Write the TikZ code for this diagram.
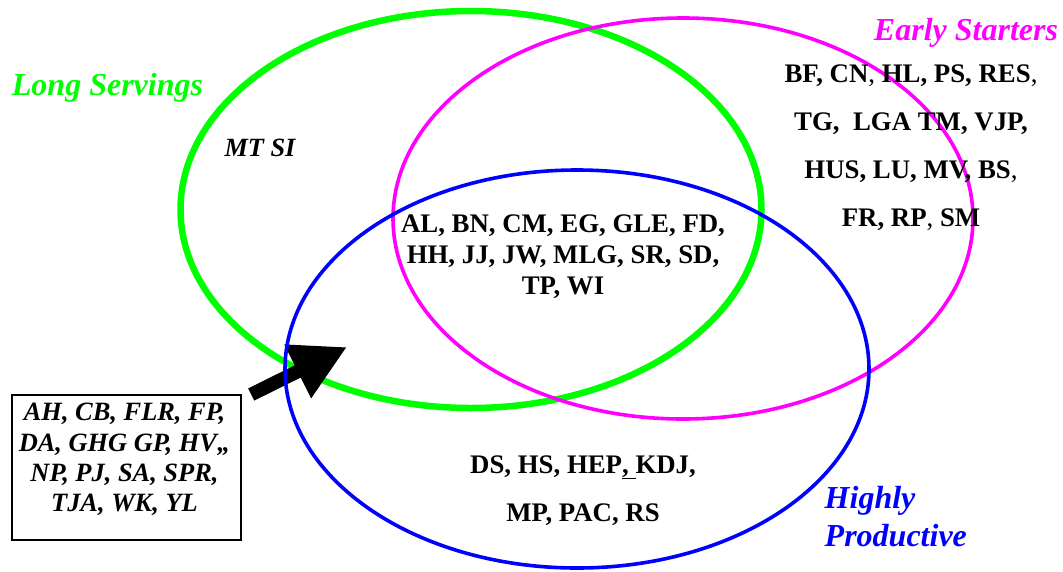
\documentclass[tikz,border=0pt]{standalone}
\usepackage{fontspec}
\setmainfont{Liberation Serif}
\usetikzlibrary{arrows.meta}
\definecolor{vgreen}{RGB}{0,255,0}
\definecolor{vmag}{RGB}{255,0,255}
\definecolor{vblue}{RGB}{0,0,255}
\begin{document}
\begin{tikzpicture}[x=1pt,y=-1pt,
  names/.style={inner sep=0pt, align=center, anchor=base},
  title/.style={inner sep=0pt, font=\fontsize{32}{38}\selectfont\bfseries\itshape},
  setline/.style={line width=#1},
  blockarrow/.style={line width=13.6pt, -{Triangle[length=55pt,width=56pt]}}]
\useasboundingbox (0,0) rectangle (1063,571);
% sets
\draw[vgreen, setline=6.5pt] (471,209.5) ellipse [x radius=290.5, y radius=198.5];
\draw[vmag, setline=3.6pt] (683,218.5) ellipse [x radius=290, y radius=200.5];
% arrow
\coordinate (tail) at (251.2,394.5);
\coordinate (tip) at (347,347);
\draw[black, blockarrow] (tail) -- (tip);
\draw[vblue, setline=3.6pt] (577,369) ellipse [x radius=292, y radius=199];
% labels (multi-line nodes: base = baseline of last line)
\node[title, vmag, anchor=base] (es) at (966,40.7) {Early Starters};
\node[title, vgreen, anchor=base] (ls) at (107.5,95) {Long Servings};
\node[title, vblue, align=left, anchor=base west] (hp) at (824.5,546) {Highly\\Productive};
% member lists
\node[names, font=\fontsize{26.8}{47.8}\selectfont\bfseries] (esonly) at (911,226)
  {BF, CN{\mdseries,} HL, PS, RES{\mdseries,}\\TG,\ \ LGA TM, VJP,\\HUS, LU, MV, BS{\mdseries,}\\FR, RP{\mdseries,} SM};
\node[names, font=\fontsize{26.8}{31}\selectfont\bfseries] (all) at (563,294)
  {AL, BN, CM, EG, GLE, FD,\\HH, JJ, JW, MLG, SR, SD,\\TP, WI};
\node[names, font=\fontsize{26.3}{32}\selectfont\bfseries\itshape] (lsonly) at (260,156) {MT SI};
\node[names, font=\fontsize{26.8}{48.7}\selectfont\bfseries] (hponly) at (583,521.7)
  {DS, HS, HEP\underline{,\ }KDJ,\\MP, PAC, RS};
% outside box
\node[draw, line width=1.8pt, minimum width=229pt, minimum height=145pt, inner sep=0pt, anchor=north west] (box) at (11,394) {};
\node[names, font=\fontsize{26.4}{30.3}\selectfont\bfseries\itshape] (none) at (124.5,511.7)
  {AH, CB, FLR, FP,\\DA, GHG GP, HV,,\\NP, PJ, SA, SPR,\\TJA, WK, YL};
\end{tikzpicture}
\end{document}
